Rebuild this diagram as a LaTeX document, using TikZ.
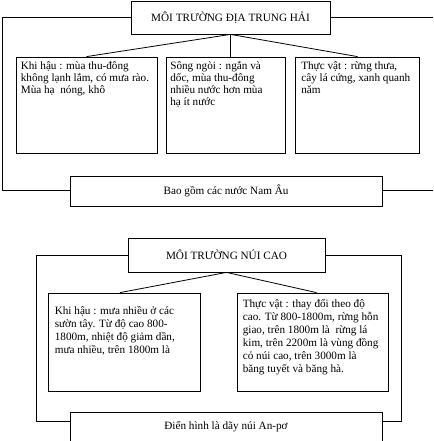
\documentclass[tikz,border=0pt]{standalone}
\usepackage{fontspec}
\setmainfont{Liberation Serif}
\newcommand{\tstrut}{\rule{0pt}{10pt}}
\begin{document}
\begin{tikzpicture}[x=1pt,y=-1pt,
  box/.style={draw,line width=0.8pt,inner sep=0pt,rectangle},
  txt/.style={inner sep=0pt,anchor=north west,align=left,font=\fontsize{11.2}{12}\selectfont},
  ttl/.style={inner sep=0pt,font=\fontsize{11.2}{12}\selectfont},
  conn/.style={line width=0.8pt}]
\clip (0,0) rectangle (433,441);
% ---- diagram 1
\node[box,minimum width=199pt,minimum height=33pt] (t1) at (230.5,17.5) {};
\node[ttl] (t1t) at (t1.center) {MÔI TRƯỜNG ĐỊA TRUNG HẢI};
\node[box,minimum width=141pt,minimum height=96pt] (b1) at (86.5,105) {};
\node[box,minimum width=119pt,minimum height=96pt] (b2) at (225.5,105) {};
\node[box,minimum width=124pt,minimum height=96pt] (b3) at (357.5,105) {};
\node[txt] (b1t) at ([shift={(5,3)}]b1.north west) {\tstrut Khi hậu : mùa thu-đông\\không lạnh lắm, có mưa rào.\\Mùa hạ\ \ nóng, khô};
\node[txt] (b2t) at ([shift={(4.5,3)}]b2.north west) {\tstrut Sông ngòi : ngắn và\\dốc, mùa thu-đông\\nhiều nước hơn mùa\\hạ ít nước};
\node[txt] (b3t) at ([shift={(6,3)}]b3.north west) {\tstrut Thực vật : rừng thưa,\\cây lá cứng, xanh quanh\\năm};
\node[box,minimum width=312pt,minimum height=30pt] (n1) at (226,191) {};
\node[ttl] (n1t) at (n1.center) {Bao gồm các nước Nam Âu};
\coordinate (r1) at (433,17.5);
\coordinate (r2) at (433,190);
\draw[conn] (t1.west) -- (2,17.5) |- ([yshift=1pt]n1.west);
\draw[conn] (t1.east) -- (r1);
\draw[conn] ([yshift=1pt]n1.east) -- (r2);
\draw[conn] (t1.south) -- (b1.north);
\draw[conn] (t1.south) -- (t1.south |- b2.north);
\draw[conn] (t1.south) -- (b3.north);
% ---- diagram 2
\node[box,minimum width=197pt,minimum height=34pt] (t2) at (226.5,255) {};
\node[ttl] (t2t) at (t2.center) {MÔI TRƯỜNG NÚI CAO};
\node[box,minimum width=152pt,minimum height=98pt] (c1) at (124,342) {};
\node[box,minimum width=151pt,minimum height=98pt] (c2) at (312.5,342) {};
\node[txt,font=\fontsize{11.2}{13}\selectfont] (c1t) at ([shift={(7,12)}]c1.north west) {\tstrut Khi hậu : mưa nhiều ở các\\sườn tây. Từ độ cao 800-\\1800m, nhiệt độ giảm dần,\\mưa nhiều, trên 1800m là};
\node[txt,font=\fontsize{11.2}{13}\selectfont] (c2t) at ([shift={(6,5)}]c2.north west) {\tstrut Thực vật : thay đổi theo độ\\cao. Từ 800-1800m, rừng hỗn\\giao, trên 1800m là\ \ rừng lá\\kim, trên 2200m là vùng đồng\\cỏ núi cao, trên 3000m là\\băng tuyết và băng hà.};
\node[box,minimum width=312pt,minimum height=38pt] (n2) at (226,431) {};
\node[ttl] (n2t) at (226,427) {Điển hình là dãy núi An-pơ};
\draw[conn] (t2.west) -- (36,255) |- ([yshift=-10pt]n2.north west);
\draw[conn] (t2.east) -- (401,255) |- ([yshift=-10pt]n2.north east);
\draw[conn] (t2.south) -- ([xshift=-4pt]c1.north);
\draw[conn] (t2.south) -- ([xshift=4pt]c2.north);
\end{tikzpicture}
\end{document}
